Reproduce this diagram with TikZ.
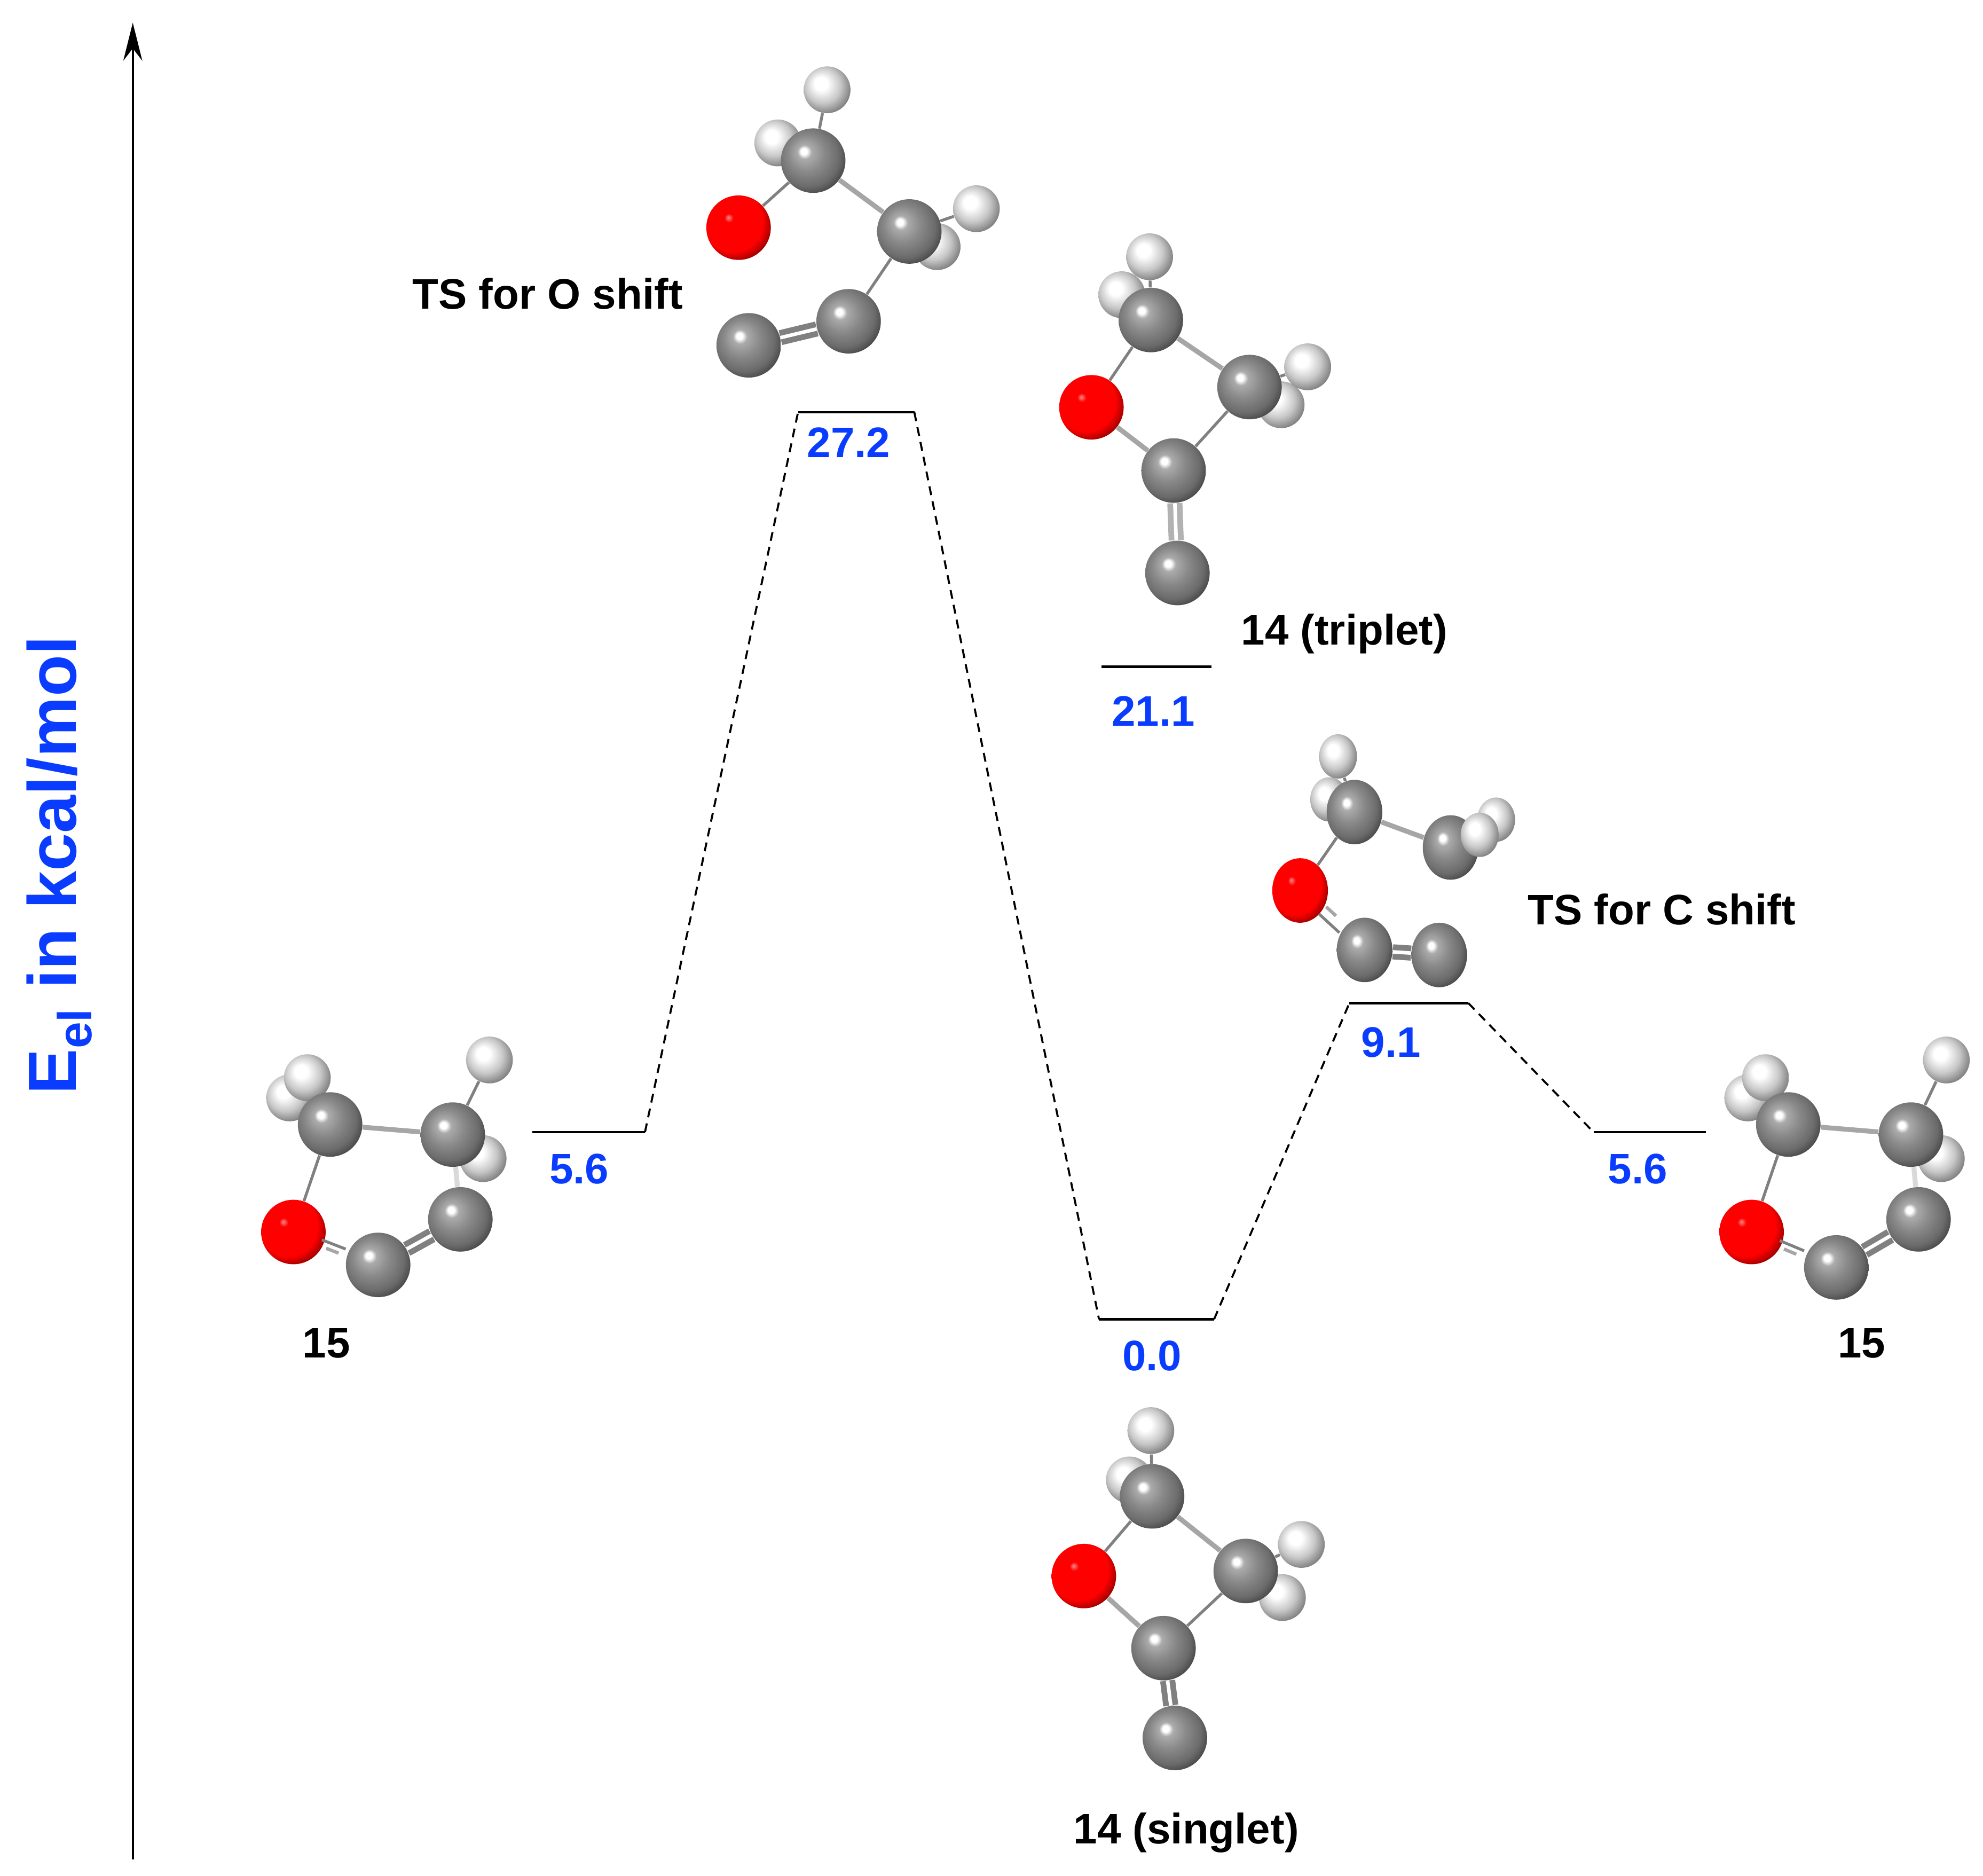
\documentclass[tikz,border=0pt]{standalone}
\usepackage{fontspec}
\setmainfont{Liberation Sans}
\usetikzlibrary{arrows.meta,shapes.geometric}

\definecolor{valblue}{RGB}{10,60,255}
\pgfdeclareradialshading{carbonball}{\pgfpoint{-7.5bp}{7.5bp}}{color(0bp)=(white); color(2.4bp)=(white); color(5.5bp)=(black!33); color(14bp)=(black!46); color(24bp)=(black!58); color(33bp)=(black!80); color(50bp)=(black)}
\pgfdeclareradialshading{hydroball}{\pgfpoint{-7.5bp}{7.5bp}}{color(0bp)=(white); color(7bp)=(white); color(19bp)=(black!22); color(29bp)=(black!50); color(37bp)=(black!70); color(50bp)=(black)}
\pgfdeclareradialshading{oxyball}{\pgfpoint{-8bp}{8bp}}{color(0bp)=(red!45!white); color(3.5bp)=(red); color(23bp)=(red); color(30bp)=(red!60!black); color(37bp)=(red!35!black); color(50bp)=(black)}

\tikzset{
  atomC/.style={circle,inner sep=0pt,minimum size=1.02cm,shade,shading=carbonball},
  atomH/.style={circle,inner sep=0pt,minimum size=0.74cm,shade,shading=hydroball},
  atomO/.style={circle,inner sep=0pt,minimum size=1.02cm,shade,shading=oxyball},
  flatC/.style={ellipse,inner sep=0pt,minimum width=0.88cm,minimum height=1.02cm,shade,shading=carbonball},
  flatH/.style={ellipse,inner sep=0pt,minimum width=0.6cm,minimum height=0.7cm,shade,shading=hydroball},
  flatO/.style={ellipse,inner sep=0pt,minimum width=0.88cm,minimum height=1.02cm,shade,shading=oxyball},
  bond/.style={draw=black!50,line width=1.3pt},
  fatbond/.style={draw=black!35,line width=2.2pt},
  dbond/.style={draw=black!50,line width=2.6pt,double=white,double distance=1.6pt},
  gapbond/.style={draw=black!35,line width=1.5pt,dash pattern=on 6pt off 10pt on 6pt},
  level/.style={line width=1.1pt},
  path/.style={line width=0.9pt,dash pattern=on 4pt off 2.8pt},
  lbl/.style={font=\fontsize{19.2}{23}\selectfont\bfseries,inner sep=0pt},
  val/.style={lbl,text=valblue}
}

\begin{document}
\begin{tikzpicture}[x=0.02cm,y=-0.02cm]
\useasboundingbox (0,0) rectangle (1568,1483);

% axis
\coordinate (axisbot) at (105,1470);
\coordinate (axistop) at (105,18);
\draw[line width=0.9pt,-{Stealth[length=0.6cm,width=0.3cm]}] (axisbot) -- (axistop);
\node[rotate=90,text=valblue,inner sep=0pt,font=\fontsize{30.7}{36}\selectfont\bfseries] (ylabel) at (47,684) {E\textsubscript{el} in kcal/mol};

% levels
\coordinate (startl) at (421,895);  \coordinate (startr) at (510,895);
\coordinate (tsol) at (631,326);    \coordinate (tsor) at (723,326);
\coordinate (mina) at (869,1043);   \coordinate (minb) at (960,1043);
\coordinate (tscl) at (1067,793);   \coordinate (tscr) at (1161,793);
\coordinate (endl) at (1260,895);   \coordinate (endr) at (1349,895);
\coordinate (tripl) at (871,527);   \coordinate (tripr) at (958,527);

\draw[level] (startl) -- (startr);
\draw[level] (tsol) -- (tsor);
\draw[level] (mina) -- (minb);
\draw[level] (tscl) -- (tscr);
\draw[level] (endl) -- (endr);
\draw[level] (tripl) -- (tripr);

\draw[path] (startr) -- (tsol);
\draw[path] (tsor) -- (mina);
\draw[path] (minb) -- (tscl);
\draw[path] (tscr) -- (endl);

% values
\node[val] (vtso) at (671,350) {27.2};
\node[val] (vtrip) at (912,562) {21.1};
\node[val] (vtsc) at (1100,824) {9.1};
\node[val] (vstart) at (458,924) {5.6};
\node[val] (vend) at (1295,924) {5.6};
\node[val] (vmin) at (911,1072) {0.0};

% names
\node[lbl] (ntso) at (433,232) {TS for O shift};
\node[lbl] (ntrip) at (1063,501) {14 (triplet)};
\node[lbl] (ntsc) at (1314,719) {TS for C shift};
\node[lbl] (nstart) at (258,1062) {15};
\node[lbl] (nend) at (1472,1062) {15};
\node[lbl] (nmin) at (938,1449) {14 (singlet)};

% TS for O shift
\node[atomH] (aH1) at (654,71) {};
\node[atomH] (aH2) at (615,113) {};
\node[atomH] (aH4) at (741,195) {};
\node[atomH] (aH3) at (772,165) {};
\node[atomC] (aC1) at (643,127) {};
\node[atomC] (aC2) at (719,183) {};
\node[atomO] (aO) at (584,180) {};
\node[atomC] (aC3) at (671,254) {};
\node[atomC] (aC4) at (592,273) {};
\draw[bond] (aC1) -- (aH1);
\draw[bond] (aC2) -- (aH3);
\draw[bond] (aC1) -- (aO);
\draw[fatbond] (aC1) -- (aC2);
\draw[bond] (aC2) -- (aC3);
\draw[dbond] (aC3) -- (aC4);

% 14 (triplet)
\node[atomH] (bH1) at (909,203) {};
\node[atomH] (bH2) at (887,233) {};
\node[atomH] (bH4) at (1013,320) {};
\node[atomH] (bH3) at (1034,290) {};
\node[atomC] (bC1) at (910,253) {};
\node[atomC] (bC2) at (988,306) {};
\node[atomO] (bO) at (863,322) {};
\node[atomC] (bC3) at (928,372) {};
\node[atomC] (bC4) at (931,453) {};
\draw[bond] (bC1) -- (bH1);
\draw[bond] (bC2) -- (bH3);
\draw[bond] (bC1) -- (bO);
\draw[fatbond] (bC1) -- (bC2);
\draw[bond] (bC2) -- (bC3);
\draw[fatbond] (bO) -- (bC3);
\draw[dbond,draw=black!30] (bC3) -- (bC4);

% TS for C shift
\node[flatH] (cH1) at (1058,598) {};
\node[flatH] (cH2) at (1051,632) {};
\node[flatH] (cH3) at (1183,648) {};
\node[flatC] (cC1) at (1071,642) {};
\node[flatC] (cC2) at (1147,670) {};
\node[flatH] (cH4) at (1170,660) {};
\node[flatO] (cO) at (1028,704) {};
\node[flatC] (cC3) at (1079,751) {};
\node[flatC] (cC4) at (1138,755) {};
\draw[bond] (cC1) -- (cH1);
\draw[bond] (cC1) -- (cO);
\draw[fatbond] (cC1) -- (cC2);
\draw[dbond] (cC3) -- (cC4);
\draw[bond,transform canvas={shift={(-1.4pt,-1.4pt)}}] (cO) -- (cC3);
\draw[gapbond,transform canvas={shift={(1.8pt,1.8pt)}}] (cO) -- (cC3);

% 15, left
\node[atomH] (dH2) at (229,868) {};
\node[atomH] (dH1) at (243,852) {};
\node[atomH] (dH3) at (387,838) {};
\node[atomH] (dH4) at (382,916) {};
\node[atomC] (dC1) at (261,889) {};
\node[atomC] (dC2) at (358,897) {};
\node[atomO] (dO) at (232,974) {};
\node[atomC] (dC3) at (364,964) {};
\node[atomC] (dC4) at (299,1000) {};
\draw[bond] (dC2) -- (dH3);
\draw[bond] (dC1) -- (dO);
\draw[fatbond] (dC1) -- (dC2);
\draw[fatbond,draw=black!15] (dC2) -- (dC3);
\draw[dbond] (dC3) -- (dC4);
\draw[bond,transform canvas={shift={(-0.9pt,1.8pt)}}] (dO) -- (dC4);
\draw[gapbond,transform canvas={shift={(1pt,-2pt)}}] (dO) -- (dC4);

% 15, right
\node[atomH] (eH2) at (1382,868) {};
\node[atomH] (eH1) at (1396,852) {};
\node[atomH] (eH3) at (1539,838) {};
\node[atomH] (eH4) at (1535,916) {};
\node[atomC] (eC1) at (1414,889) {};
\node[atomC] (eC2) at (1511,897) {};
\node[atomO] (eO) at (1385,974) {};
\node[atomC] (eC3) at (1517,964) {};
\node[atomC] (eC4) at (1452,1002) {};
\draw[bond] (eC2) -- (eH3);
\draw[bond] (eC1) -- (eO);
\draw[fatbond] (eC1) -- (eC2);
\draw[fatbond,draw=black!15] (eC2) -- (eC3);
\draw[dbond] (eC3) -- (eC4);
\draw[bond,transform canvas={shift={(-0.9pt,1.8pt)}}] (eO) -- (eC4);
\draw[gapbond,transform canvas={shift={(1pt,-2pt)}}] (eO) -- (eC4);

% 14 (singlet)
\node[atomH] (fH1) at (910,1131) {};
\node[atomH] (fH2) at (893,1170) {};
\node[atomH] (fH3) at (1029,1221) {};
\node[atomH] (fH4) at (1014,1263) {};
\node[atomC] (fC1) at (911,1183) {};
\node[atomC] (fC2) at (985,1242) {};
\node[atomO] (fO) at (857,1246) {};
\node[atomC] (fC3) at (920,1303) {};
\node[atomC] (fC4) at (929,1374) {};
\draw[bond] (fC1) -- (fH1);
\draw[bond] (fC2) -- (fH3);
\draw[bond] (fC1) -- (fO);
\draw[fatbond] (fC1) -- (fC2);
\draw[bond] (fC2) -- (fC3);
\draw[fatbond] (fO) -- (fC3);
\draw[dbond] (fC3) -- (fC4);
\end{tikzpicture}
\end{document}
